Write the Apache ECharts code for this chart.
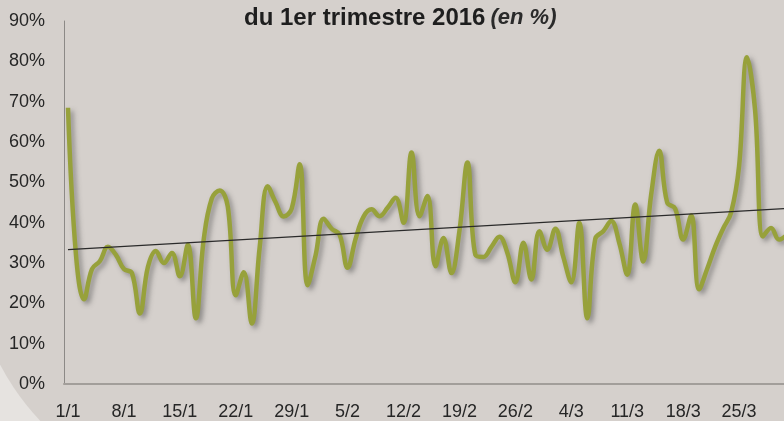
<!DOCTYPE html>
<html>
<head>
<meta charset="utf-8">
<script src="https://cdn.jsdelivr.net/npm/echarts@6/dist/echarts.min.js"></script>
<style>
html,body{margin:0;padding:0;background:#e6e3e0;}
#chart{width:784px;height:421px;}
</style>
</head>
<body>
<div id="chart"></div>
<script>
// Categories: days of the 1st quarter 2016
const categories = [
 '1/1','2/1','3/1','4/1','5/1','6/1','7/1','8/1','9/1','10/1','11/1','12/1','13/1','14/1','15/1','16/1',
 '17/1','18/1','19/1','20/1','21/1','22/1','23/1','24/1','25/1','26/1','27/1','28/1','29/1','30/1','31/1',
 '1/2','2/2','3/2','4/2','5/2','6/2','7/2','8/2','9/2','10/2','11/2','12/2','13/2','14/2','15/2','16/2',
 '17/2','18/2','19/2','20/2','21/2','22/2','23/2','24/2','25/2','26/2','27/2','28/2','29/2',
 '1/3','2/3','3/3','4/3','5/3','6/3','7/3','8/3','9/3','10/3','11/3','12/3','13/3','14/3','15/3','16/3',
 '17/3','18/3','19/3','20/3','21/3','22/3','23/3','24/3','25/3','26/3','27/3','28/3','29/3','30/3','31/3'
];
// Daily rate (%)
const rates = [
 68.5, 32, 21, 28.5, 30.5, 34, 32, 28.5, 27.5, 17.5,
 29, 33, 30, 32.5, 26.7, 34.5, 16.3, 36, 46, 48,
 44, 22, 27.7, 15, 34, 49, 45, 41.5, 43.5, 54.5,
 24.5, 32, 41, 38.5, 37, 28.8, 36, 41.5, 43.3, 41.6,
 43.7, 46.2, 40, 57.4, 41.6, 46.6, 29.2, 36.2, 27.5, 38,
 54.9, 32, 31.5, 34, 36.5, 32.5, 25.2, 35, 25.9, 37.9,
 33.3, 38.5, 31.5, 25.2, 40, 16.3, 36, 37.9, 40.4, 35,
 27.1, 44.5, 30.4, 47, 57.8, 45, 43.5, 35.8, 41.8, 23.5,
 28.5, 34, 38.5, 42.5, 54, 81, 68, 36.6, 38.7, 35.8,
 37
];
// Linear trend: value at first and last day
const trendEnds = [33.3, 43.5];
const yTicks = {min: 0, max: 90, step: 10};

const trendData = categories.map((c, i) =>
  i === 0 ? trendEnds[0] : (i === categories.length - 1 ? trendEnds[1] : null));

const chart = echarts.init(document.getElementById('chart'), null, {renderer: 'canvas'});
const font = 'Liberation Sans, Arial, sans-serif';
chart.setOption({
  backgroundColor: '#e6e3e0',
  animation: false,
  graphic: [{
    type: 'rect', z: -10, silent: true,
    shape: {x: -28, y: -100, width: 1000, height: 598, r: [0, 0, 0, 248]},
    style: {fill: '#d5d0cc'}
  }],
  title: {
    text: '{b|du 1er trimestre 2016} {i|(en %)}',
    left: 244, top: 6, padding: 0,
    textStyle: {
      rich: {
        b: {fontFamily: font, fontWeight: 'bold', fontSize: 24, color: '#1e1e1e'},
        i: {fontFamily: font, fontStyle: 'italic', fontSize: 22, color: '#2a2a2a'}
      }
    }
  },
  grid: {left: 64, width: 727, top: 21, bottom: 37, containLabel: false, outerBoundsMode: 'none'},
  xAxis: {
    type: 'category', data: categories, boundaryGap: true,
    axisLine: {show: true, lineStyle: {color: '#a29e9a', width: 2}},
    axisTick: {show: false},
    splitLine: {show: false},
    axisLabel: {interval: 6, margin: 19, color: '#262626', fontSize: 18, fontFamily: font}
  },
  yAxis: {
    type: 'value', min: yTicks.min, max: yTicks.max, interval: yTicks.step,
    axisLine: {show: true, lineStyle: {color: '#8c8986', width: 1}},
    axisTick: {show: false},
    splitLine: {show: false},
    axisLabel: {formatter: '{value}%', margin: 19, color: '#262626', fontSize: 18, fontFamily: font}
  },
  series: [
    {
      type: 'line', data: rates, smooth: 0.4, symbol: 'none', z: 2,
      lineStyle: {color: '#97a13b', width: 4.5, shadowColor: 'rgba(70,70,70,0.5)', shadowBlur: 5, shadowOffsetX: 3, shadowOffsetY: 3}
    },
    {
      type: 'line', data: trendData, connectNulls: true, symbol: 'none', z: 3,
      lineStyle: {color: '#2a2a2a', width: 1.2}
    }
  ]
});
</script>
</body>
</html>
